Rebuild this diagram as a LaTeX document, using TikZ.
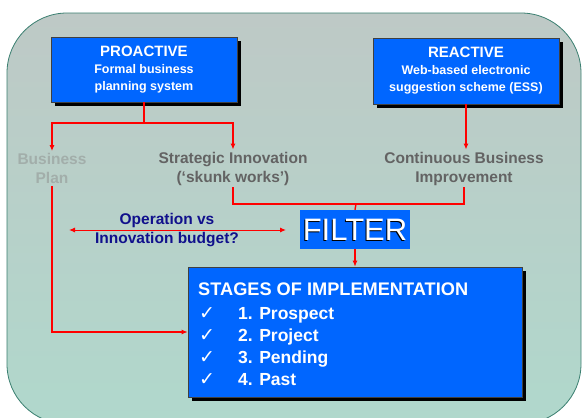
\documentclass[tikz,border=0pt]{standalone}
\usepackage{fontspec}
\setmainfont{Liberation Sans}
\newfontfamily\dejavu{DejaVu Sans}
\usetikzlibrary{arrows.meta,shadows}
\definecolor{boxblue}{HTML}{0066FF}
\definecolor{bgtop}{HTML}{BEC9C6}
\definecolor{bgbot}{HTML}{B0D8CC}
\definecolor{bgedge}{HTML}{3A7F70}
\definecolor{lblgray}{HTML}{636363}
\definecolor{lightgray}{HTML}{A2AEAA}
\definecolor{navy}{HTML}{10108C}
\definecolor{linered}{HTML}{FF0000}
\newcommand{\ckmark}{{\dejavu\fontsize{19}{19}\selectfont ✓}}
\tikzset{
  bluebox/.style={fill=boxblue, draw=black!75, line width=0.6pt, text=white,
    font=\fontsize{12.5}{17}\selectfont\bfseries, align=center, inner sep=0pt,
    drop shadow={shadow xshift=4pt, shadow yshift=-4pt, fill=black, opacity=1}},
  lbl/.style={font=\fontsize{15.5}{19}\selectfont\bfseries, align=center, inner sep=2pt},
  redline/.style={draw=linered, line width=1.4pt},
  redarrow/.style={redline, -{Latex[length=6pt,width=5pt]}},
  redboth/.style={redline, {Latex[length=6pt,width=5pt]}-{Latex[length=6pt,width=5pt]}, line width=1pt}
}
\begin{document}
\begin{tikzpicture}[x=1pt,y=-1pt]
\useasboundingbox (0,0) rectangle (582,418);
\clip (0,0) rectangle (582,418);
\fill[white] (0,0) rectangle (582,418);
\shade[top color=bgtop, bottom color=bgbot, draw=bgedge, line width=0.8pt, rounded corners=60pt]
  (7,13) rectangle (581,424);

% top boxes
\node[bluebox, minimum width=186pt, minimum height=65pt] (pro) at (144,69.5)
  {{\fontsize{15}{17}\selectfont PROACTIVE}\\
   Formal business\\
   planning system};
\node[bluebox, minimum width=186pt, minimum height=66pt] (rea) at (466,71)
  {{\fontsize{15}{17}\selectfont REACTIVE}\\
   Web-based electronic\\
   suggestion scheme (ESS)};

% labels
\node[lbl, text=lightgray] (bp) at (52,168.5) {Business\\Plan};
\node[lbl, text=lblgray] (si) at (233,168.5) {Strategic Innovation\\(‘skunk works’)};
\node[lbl, text=lblgray] (cbi) at (464,168.5) {Continuous Business\\Improvement};

% filter
\node[fill=boxblue, minimum width=110pt, minimum height=39pt, inner sep=0pt] (filter) at (355,229.5) {};
\node[text=black, font=\fontsize{31}{31}\selectfont, inner sep=0pt] (filtersh) at (354,231) {FILTER};
\node[text=white, font=\fontsize{31}{31}\selectfont, inner sep=0pt] (filtertx) at (355,230) {FILTER};

% budget text
\node[text=navy, font=\fontsize{15.5}{19}\selectfont\bfseries, align=center, inner sep=0pt] (bud) at (167,230.5)
  {Operation vs\\Innovation budget?};

% stages box
\node[bluebox, minimum width=334pt, minimum height=130pt] (stages) at (355,332) {};
\node[text=white, font=\fontsize{17.5}{22}\selectfont\bfseries, align=left, inner sep=0pt,
      anchor=north west] (stagestext) at (198,282.5)
  {{\fontsize{18.2}{22}\selectfont STAGES OF IMPLEMENTATION}\\[2pt]
   \hspace*{1pt}\makebox[39pt][l]{\ckmark}1. Prospect\\
   \hspace*{1pt}\makebox[39pt][l]{\ckmark}2. Project\\
   \hspace*{1pt}\makebox[39pt][l]{\ckmark}3. Pending\\
   \hspace*{1pt}\makebox[39pt][l]{\ckmark}4. Past};

% connectors
\coordinate (pj) at (144,123);
\draw[redline] (pro.south) -- (pj);
\draw[redarrow] (pj) -| (bp.north);
\draw[redarrow] (pj) -| (si.north);
\draw[redarrow] (rea.south) -- (rea.south |- cbi.north);

\coordinate (fj) at (356,204);
\draw[redline] (si.south) |- (fj);
\draw[redline] (cbi.south) |- (fj);
\draw[redline] (fj) -- (filter.north);

\draw[redarrow] (filter.south) -- (stages.north);
\draw[redarrow] (bp.south) |- (stages.west);

\coordinate (ba) at (69,230);
\coordinate (bb) at (286,230);
\draw[redboth] (ba) -- (bb);
\end{tikzpicture}
\end{document}
